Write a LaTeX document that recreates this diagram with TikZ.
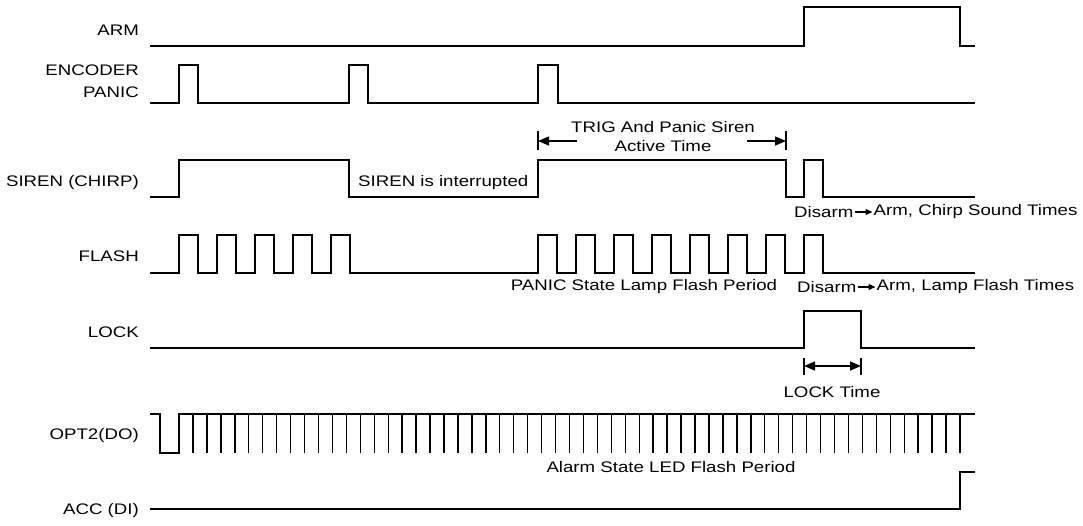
\documentclass[tikz,border=0pt]{standalone}
\usepackage{fontspec}
\setmainfont{Liberation Sans}[FakeStretch=1.22]
\usepackage{tikz}
\usetikzlibrary{arrows.meta,positioning}
\tikzset{
  wave/.style={line width=1.4pt, line join=miter},
  siglabel/.style={anchor=east, inner sep=0pt, align=right, font=\fontsize{15.3}{22}\selectfont},
  note/.style={inner sep=0pt, align=center, font=\fontsize{15.3}{19}\selectfont},
  bar/.style={line width=1.3pt},
  dimflow/.style={-{Triangle[length=11pt,width=9pt]}, line width=1.3pt},
  dimboth/.style={{Triangle[length=11pt,width=9pt]}-{Triangle[length=11pt,width=9pt]}, line width=1.3pt},
  inflow/.style={-{Triangle[length=7pt,width=6pt]}, line width=1.2pt}
}

\begin{document}
\begin{tikzpicture}[x=1pt,y=-1pt]
  \useasboundingbox (0,0) rectangle (1083,525);

  % signal names
  \node[siglabel] (lblarm)   at (139,30)  {ARM};
  \node[siglabel] (lblenc)   at (139,81)  {ENCODER\\PANIC};
  \node[siglabel] (lblsiren) at (139,183) {SIREN (CHIRP)};
  \node[siglabel] (lblflash) at (139,256) {FLASH};
  \node[siglabel] (lbllock)  at (139,332) {LOCK};
  \node[siglabel] (lblopt)   at (139,436) {OPT2(DO)};
  \node[siglabel] (lblacc)   at (139,511) {ACC (DI)};

  % waveforms
  \draw[wave] (150,46) -- (804,46) -- (804,7) -- (960,7) -- (960,46) -- (975,46);
  \draw[wave] (150,103) -- (179,103) -- (179,65) -- (198,65) -- (198,103)
    -- (349,103) -- (349,65) -- (368,65) -- (368,103)
    -- (538,103) -- (538,65) -- (558,65) -- (558,103) -- (975,103);
  \draw[wave] (150,197) -- (179,197) -- (179,160) -- (349,160) -- (349,197)
    -- (538,197) -- (538,160) -- (786,160) -- (786,197)
    -- (804,197) -- (804,160) -- (823,160) -- (823,197) -- (975,197);
  \draw[wave] (150,273) -- (179,273)
    foreach \k in {1,...,5} { -- ++(0,-38) -- ++(19,0) -- ++(0,38) -- ++(19,0) }
    -- (538,273)
    foreach \k in {1,...,8} { -- ++(0,-38) -- ++(19,0) -- ++(0,38) -- ++(19,0) }
    -- (975,273);
  \draw[wave] (150,348) -- (804,348) -- (804,311) -- (861,311) -- (861,348) -- (975,348);
  \draw[wave] (150,414) -- (160,414) -- (160,453) -- (179,453) -- (179,414) -- (975,414);
  \foreach \i in {0,...,55}
    \draw[wave, line cap=butt] ({193+\i*13.945},414) -- ++(0,39);
  \draw[wave] (150,509) -- (960,509) -- (960,472) -- (975,472);

  % notes
  \node[note, anchor=west] (interrupt) at (358,183) {SIREN is interrupted};
  \node[note] (active) at (663,137) {TRIG And Panic Siren\\Active Time};
  \coordinate (actl) at (538,141);
  \coordinate (actr) at (786,141);
  \draw[bar] (538,131) -- (538,150);
  \draw[bar] (786,131) -- (786,150);
  \draw[dimflow] (577,141) -- (actl);
  \draw[dimflow] (747,141) -- (actr);

  \node[note, anchor=west] (dischirp) at (794,212) {Disarm};
  \node[note, anchor=west, right=20pt of dischirp] (armchirp) {Arm, Chirp Sound Times};
  \draw[inflow] (dischirp.east) ++(1,0) -- ([xshift=-1pt]armchirp.west);

  \node[note] (panicflash) at (644,287) {PANIC State Lamp Flash Period};
  \node[note, anchor=west] (disflash) at (797,287) {Disarm};
  \node[note, anchor=west, right=20pt of disflash] (armflash) {Arm, Lamp Flash Times};
  \draw[inflow] (disflash.east) ++(1,0) -- ([xshift=-1pt]armflash.west);

  \coordinate (lockl) at (804,366);
  \coordinate (lockr) at (861,366);
  \draw[bar] (804,358) -- (804,375);
  \draw[bar] (861,358) -- (861,375);
  \draw[dimboth] (lockl) -- (lockr);
  \node[note] (locktime) at (832,392) {LOCK Time};

  \node[note] (ledflash) at (671,467) {Alarm State LED Flash Period};
\end{tikzpicture}
\end{document}
